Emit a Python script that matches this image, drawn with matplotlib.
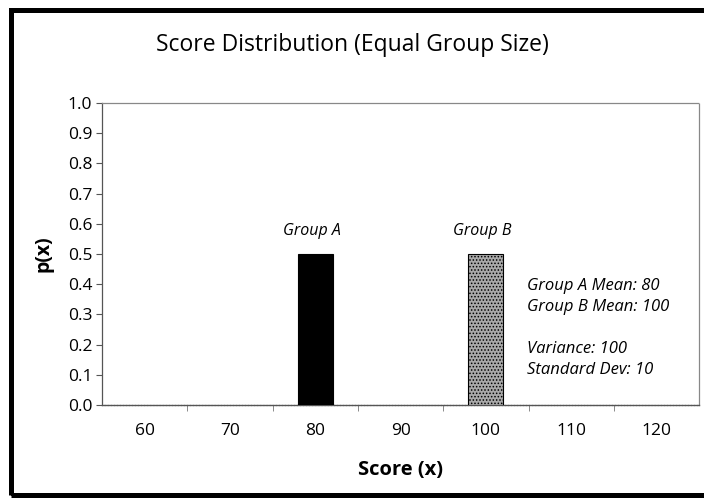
import matplotlib.pyplot as plt
from matplotlib.patches import Rectangle

plt.rcParams['font.family'] = ['Open Sans', 'DejaVu Sans']
plt.rcParams['hatch.linewidth'] = 0.7
plt.rcParams['hatch.color'] = '#333333'

# score categories and probability of each
scores = [60, 70, 80, 90, 100, 110, 120]
px = [0.0, 0.0, 0.5, 0.0, 0.5, 0.0, 0.0]
groups = {80: 'Group A', 100: 'Group B'}
mean_a = 80
mean_b = 100
variance = 100
std_dev = 10

fig = plt.figure(figsize=(7.04, 4.99), dpi=100)
ax = fig.add_axes([0.145, 0.188, 0.848, 0.606])

pos = list(range(len(scores)))
for i, (s, p) in enumerate(zip(scores, px)):
    if p == 0:
        continue
    if s == mean_a:
        ax.bar(i, p, width=0.41, color='black', edgecolor='black', lw=0.8, zorder=3)
    else:
        ax.bar(i, p, width=0.41, color='#a9a9a9', edgecolor='black', lw=0.8,
               hatch='.....', zorder=3)
    ax.text(i - 0.04, p + 0.05, groups[s], ha='center', va='bottom', style='italic',
            fontsize=11.5)

ax.set_xlim(-0.5, len(scores) - 0.5)
ax.set_ylim(0, 1.0)
ax.set_yticks([i / 10 for i in range(11)])
ax.set_yticklabels(['%.1f' % (i / 10) for i in range(11)], fontsize=12.5)
ax.set_xticks(pos)
ax.set_xticklabels([str(s) for s in scores], fontsize=12.5)
ax.tick_params(axis='x', which='major', length=0, pad=13)
ax.set_xticks([i + 0.5 for i in pos[:-1]], minor=True)
ax.tick_params(axis='x', which='minor', length=4, color='#777777', direction='out')
ax.tick_params(axis='y', length=4, color='#555555', direction='out', pad=3)

for side in ['top', 'right']:
    ax.spines[side].set_color('#888888')
    ax.spines[side].set_linestyle((0, (1, 1)))
    ax.spines[side].set_linewidth(0.9)
ax.spines['left'].set_color('#555555')
ax.spines['left'].set_linewidth(0.9)
ax.spines['bottom'].set_color('#555555')
ax.spines['bottom'].set_linestyle((0, (1.5, 0.7)))
ax.spines['bottom'].set_linewidth(1.0)

ax.set_xlabel('Score (x)', fontsize=14.5, fontweight='bold', labelpad=15)
ax.set_ylabel('p(x)', fontsize=14, fontweight='bold', labelpad=10)

stats = ('Group A Mean: %d\nGroup B Mean: %d\n\nVariance: %d\nStandard Dev: %d'
         % (mean_a, mean_b, variance, std_dev))
ax.text(0.712, 0.42, stats, transform=ax.transAxes, ha='left', va='top',
        style='italic', fontsize=12, linespacing=1.42)

fig.text(0.5, 0.91, 'Score Distribution (Equal Group Size)', ha='center',
         va='center', fontsize=16.5)

# outer chart frame
fig.patches.append(Rectangle((0.016, 0.008), 1.2, 0.972, transform=fig.transFigure,
                             fill=False, edgecolor='black', lw=3.6))

fig.savefig('out.png', dpi=100)
